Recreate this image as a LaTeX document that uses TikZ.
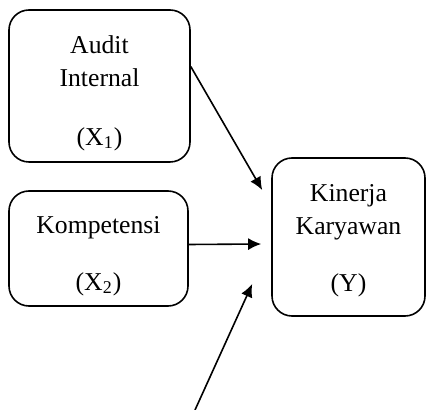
\documentclass[tikz,border=0pt]{standalone}
\usepackage{fontspec}
\setmainfont{Liberation Serif}
\usetikzlibrary{calc,positioning,arrows.meta}
\newcommand{\toppad}[1]{\rule{0pt}{#1}}

\begin{document}
\begin{tikzpicture}[x=0.5pt,y=-0.5pt,
    varbox/.style={draw,line width=0.8pt,rounded corners=10pt,align=center,
      font=\fontsize{12.85}{16.5}\selectfont},
    link/.style={line width=0.8pt,-{Latex[length=6.5pt,width=6pt]}}]

  \useasboundingbox (0,0) rectangle (427,410);

  \node[varbox,minimum width=90.5pt,minimum height=76pt] (audit) at (99.5,86)
    {\toppad{16pt}Audit\\Internal\\[13pt](X\textsubscript{1})};
  \node[varbox,minimum width=89.5pt,minimum height=57.5pt] (komp) at (98.5,248.5)
    {\toppad{16pt}Kompetensi\\[12pt](X\textsubscript{2})};
  \node[varbox,minimum width=76.5pt,minimum height=79pt] (kinerja) at (348.5,237)
    {\toppad{12pt}Kinerja\\Karyawan\\[12pt](Y)};

  \coordinate (eps) at (195,410);

  \draw[link] (audit.12) -- ($(kinerja.west)+(-9,-47)$);
  \draw[link] ([yshift=2pt]komp.east) -- ($(kinerja.west)+(-10,7)$);
  \draw[link] (eps) -- ($(kinerja.west)+(-19,47)$);

\end{tikzpicture}
\end{document}
